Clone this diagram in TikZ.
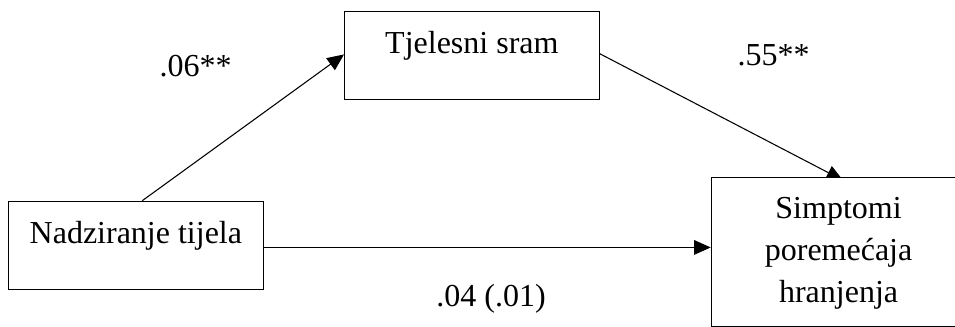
\documentclass[tikz,border=0pt]{standalone}
\usepackage{fontspec}
\setmainfont{Liberation Serif}
\usetikzlibrary{arrows.meta,backgrounds}

\begin{document}
\begin{tikzpicture}[x=0.75pt,y=-0.75pt,
  every node/.style={font=\fontsize{24}{31.5}\selectfont},
  box/.style={draw, line width=0.8pt, fill=white, inner sep=0pt, anchor=north west,
    minimum width=191pt, text height=32pt, text depth=34.3pt},
  lbl/.style={anchor=base},
  arr/.style={line width=0.8pt, -{Triangle[length=12.5pt,width=11pt]}}]
\useasboundingbox (0,0) rectangle (955,327);

\node[box] (tjelesni) at (344,10.7) {Tjelesni sram};
\node[box] (nadziranje) at (8,200.7) {Nadziranje tijela};
\node[box, text width=190pt, align=center, text height=30.75pt, text depth=80.4pt] (simptomi) at (710.7,177.3) {Simptomi\\poremećaja\\hranjenja};

\node[lbl] (koefA) at (195.5,76.7) {.06**};
\node[lbl] (koefB) at (773.5,66) {.55**};
\node[lbl] (koefC) at (491,306.7) {.04 (.01)};

\begin{pgfonlayer}{background}
\draw[arr] ([xshift=4.8pt]nadziranje.north) -- ([yshift=0.75pt]tjelesni.west);
\draw[arr, shorten >=-5pt] ([yshift=1.3pt]tjelesni.east) -- ([xshift=-1pt]simptomi.north);
\draw[arr] ([yshift=-1.5pt]nadziranje.east) -- ([yshift=-1.5pt]nadziranje.east -| simptomi.west);
\end{pgfonlayer}
\end{tikzpicture}
\end{document}
